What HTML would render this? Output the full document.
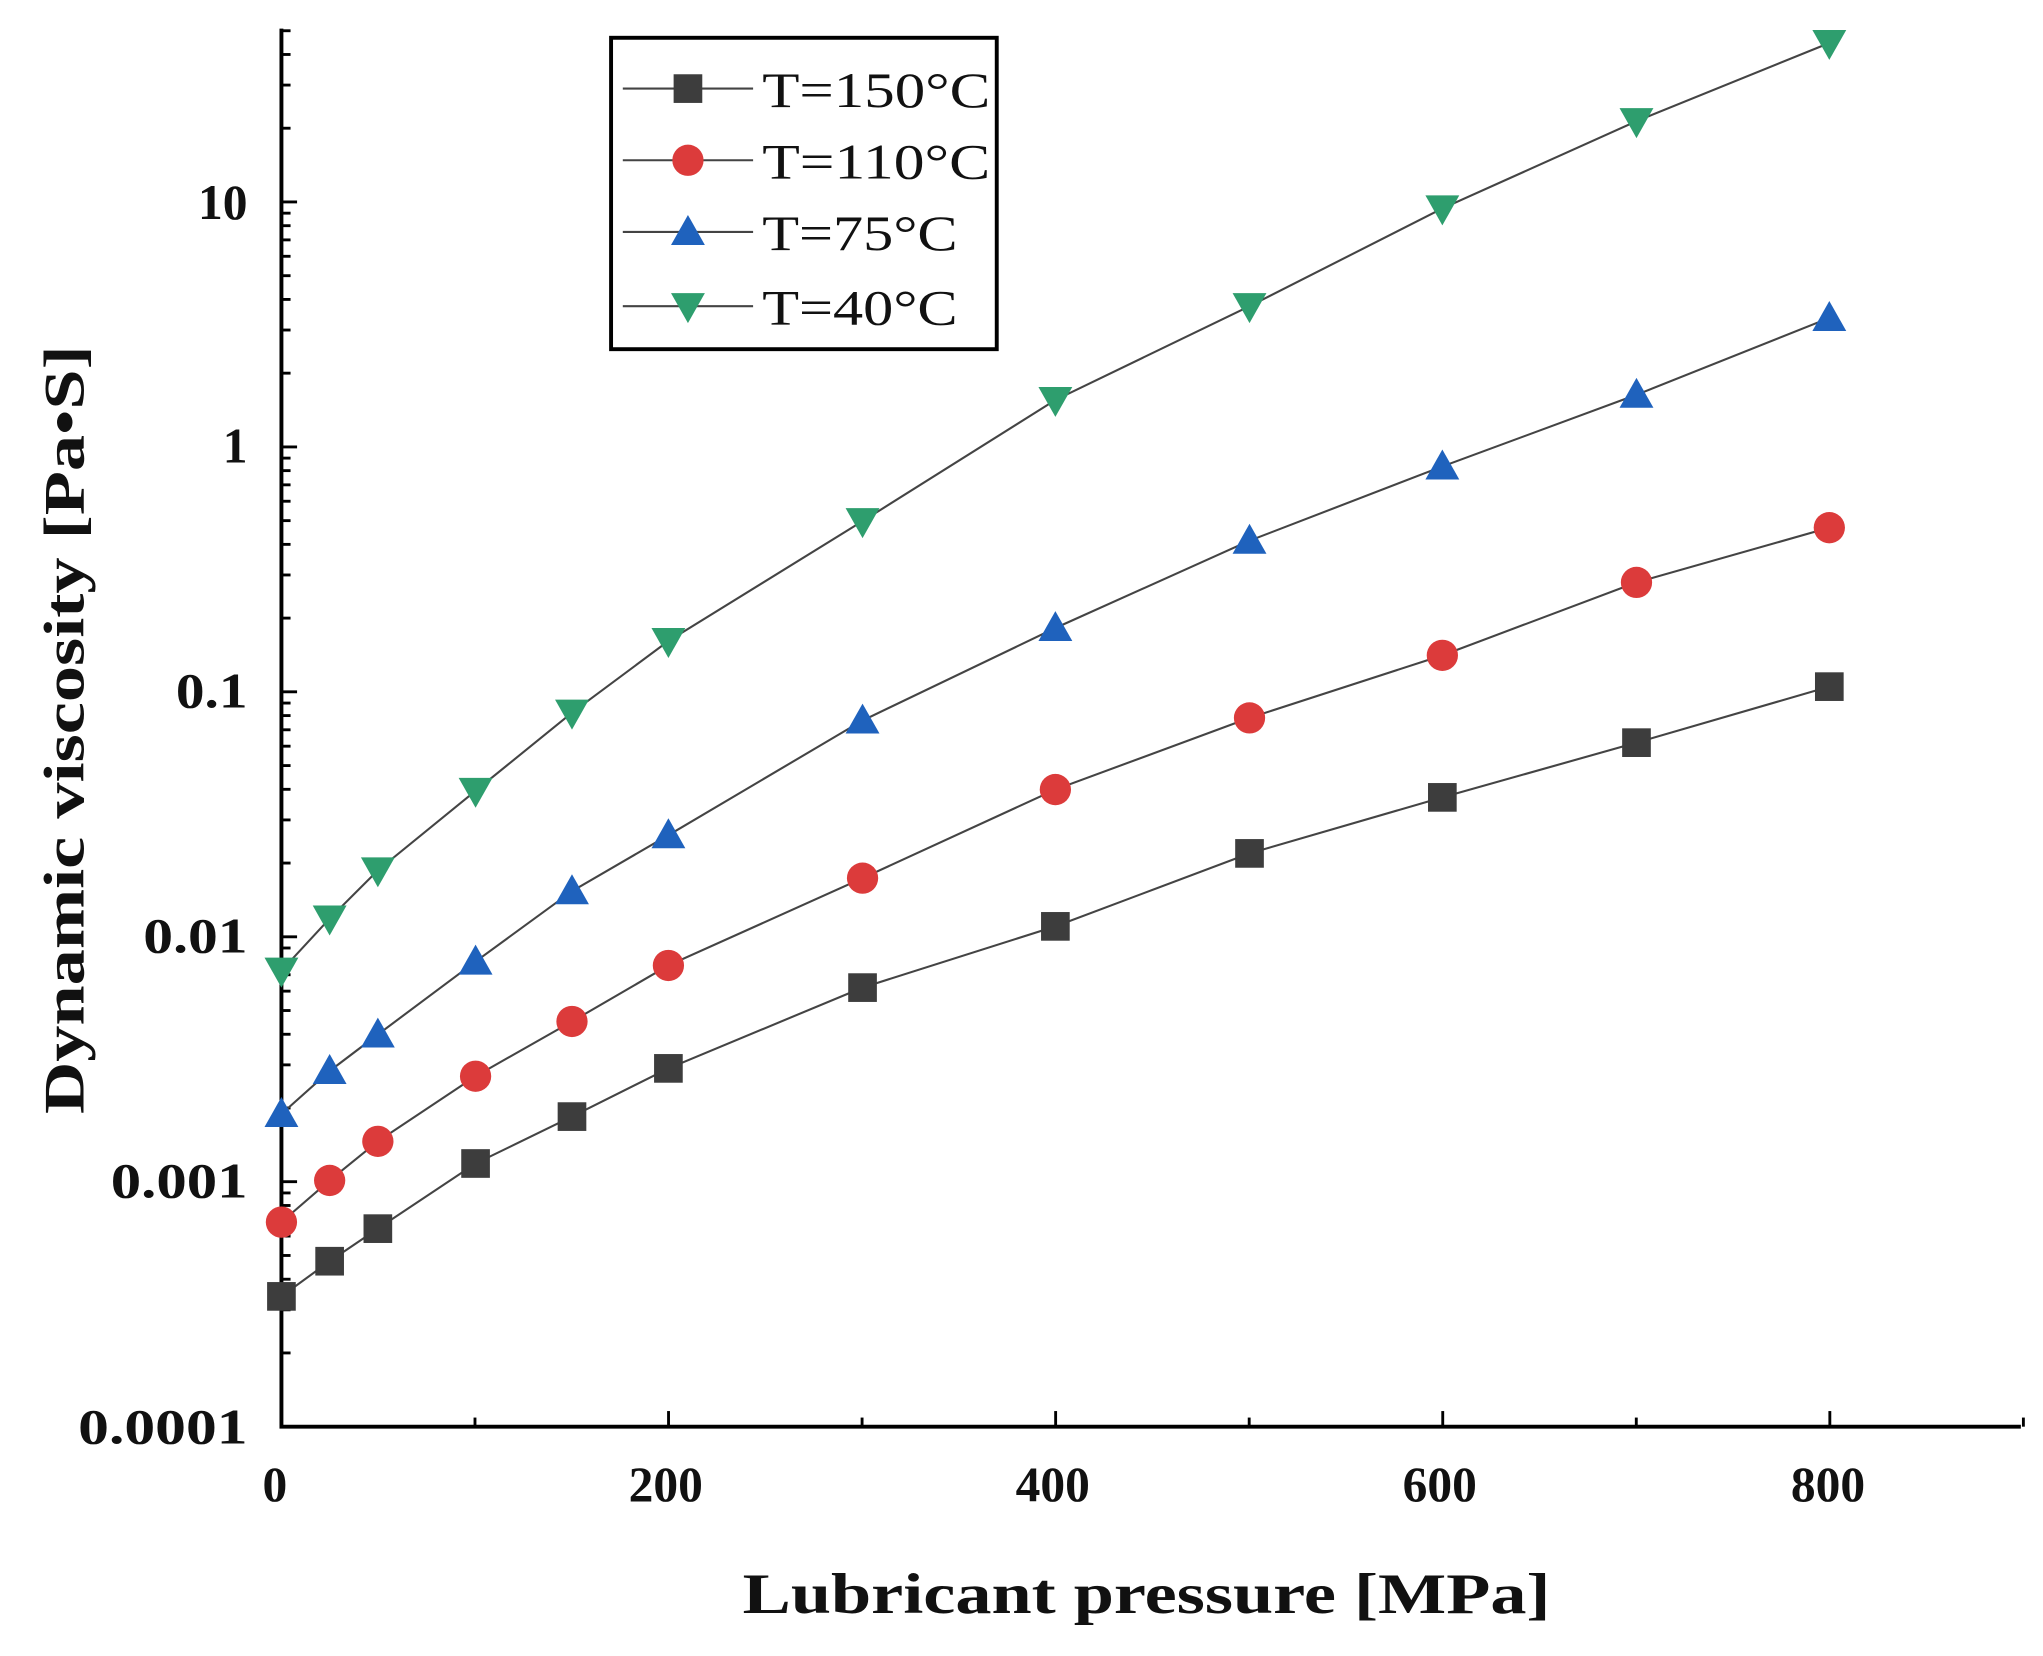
<!DOCTYPE html>
<html><head><meta charset="utf-8"><style>
html,body{margin:0;padding:0;background:#fff;}
svg{display:block;}
text{font-family:"Liberation Serif",serif;font-weight:bold;fill:#111;}
</style></head><body>
<svg id="s" width="2043" height="1656" viewBox="0 0 1568 1271" preserveAspectRatio="none" xmlns="http://www.w3.org/2000/svg">
<rect width="1568" height="1271" fill="#fff"/>
<g id="ticks" stroke="#000" stroke-width="2.2"></g>
<path d="M216 22 V1095 H1551" fill="none" stroke="#000" stroke-width="3"/>
<g id="series"></g>
<!-- tick labels -->
<g font-size="38" text-anchor="end">
<text x="190" y="1108" textLength="130" lengthAdjust="spacingAndGlyphs">0.0001</text>
<text x="190" y="919" textLength="105" lengthAdjust="spacingAndGlyphs">0.001</text>
<text x="190" y="731" textLength="80" lengthAdjust="spacingAndGlyphs">0.01</text>
<text x="190" y="543" textLength="55" lengthAdjust="spacingAndGlyphs">0.1</text>
<text x="190" y="355">1</text>
<text x="190" y="168">10</text>
</g>
<g font-size="38" text-anchor="middle">
<text x="211" y="1152">0</text>
<text x="511" y="1152">200</text>
<text x="808" y="1152">400</text>
<text x="1105" y="1152">600</text>
<text x="1403" y="1152">800</text>
</g>
<text x="880" y="1238" font-size="44" text-anchor="middle" textLength="620" lengthAdjust="spacingAndGlyphs">Lubricant pressure [MPa]</text>
<text transform="translate(64,560) rotate(-90)" font-size="44" text-anchor="middle" textLength="590" lengthAdjust="spacingAndGlyphs">Dynamic viscosity [Pa•S]</text>
<!-- legend -->
<rect x="469" y="29" width="296" height="239" fill="#fff" stroke="#000" stroke-width="3"/>
<g id="legend"></g>
<g font-size="38" font-weight="normal">
<text x="585" y="82" style="font-weight:normal" textLength="175" lengthAdjust="spacingAndGlyphs">T=150°C</text>
<text x="585" y="137" style="font-weight:normal" textLength="175" lengthAdjust="spacingAndGlyphs">T=110°C</text>
<text x="585" y="192" style="font-weight:normal" textLength="150" lengthAdjust="spacingAndGlyphs">T=75°C</text>
<text x="585" y="249" style="font-weight:normal" textLength="150" lengthAdjust="spacingAndGlyphs">T=40°C</text>
</g>
</svg>
<script>
var NS="http://www.w3.org/2000/svg";
function el(t,a,p){var e=document.createElementNS(NS,t);for(var k in a)e.setAttribute(k,a[k]);p.appendChild(e);return e;}
var tk=document.getElementById("ticks");
for(var d=-4;d<=1;d++){
  var y=1095-(d+4)*188;
  if(d>-4) el("line",{x1:216,x2:228,y1:y,y2:y},tk);
  for(var k=2;k<=9;k++){var yy=1095-(d+4+Math.log10(k))*188; if(yy<22)break; el("line",{x1:216,x2:223,y1:yy,y2:yy},tk);}
}
[0,200,400,600,800].forEach(function(p){var x=216+p*1.4855;if(p>0)el("line",{x1:x,x2:x,y1:1095,y2:1083},tk);});
[100,300,500,700,900].forEach(function(p){var x=216+p*1.4855;el("line",{x1:x,x2:x,y1:1095,y2:1088},tk);});
var X=[216,253,290,365,439,513,662,810,959,1107,1256,1404];
var S=[
 {c:"#3d3d3d",m:"sq",y:[995,968,943,893,857,820,758,711,655,612,570,527]},
 {c:"#dc3b3b",m:"ci",y:[938,906,876,826,784,741,674,606,551,503,447,405]},
 {c:"#1f62bd",m:"up",y:[855,822,794,738,684,641,553,482,415,358,303,244]},
 {c:"#2e9e6e",m:"dn",y:[745,705,668,607,547,492,400,307,235,160,93,33]}];
var g=document.getElementById("series"),lg=document.getElementById("legend");
function mk(m,x,y,c,p){
 if(m=="sq")el("rect",{x:x-11,y:y-11,width:22,height:22,fill:c},p);
 else if(m=="ci")el("circle",{cx:x,cy:y,r:12,fill:c},p);
 else if(m=="up")el("polygon",{points:(x)+","+(y-13)+" "+(x-13)+","+(y+10)+" "+(x+13)+","+(y+10),fill:c},p);
 else el("polygon",{points:(x)+","+(y+13)+" "+(x-13)+","+(y-10)+" "+(x+13)+","+(y-10),fill:c},p);
}
S.forEach(function(s,i){
 var pts=X.map(function(x,j){return x+","+s.y[j];}).join(" ");
 el("polyline",{points:pts,fill:"none",stroke:"#444",'stroke-width':1.6},g);
 X.forEach(function(x,j){mk(s.m,x,s.y[j],s.c,g);});
 var ly=[68,123,178,235][i];
 el("line",{x1:478,x2:578,y1:ly,y2:ly,stroke:"#444",'stroke-width':1.6},lg);
 mk(s.m,528,ly,s.c,lg);
});
</script>
</body></html>
